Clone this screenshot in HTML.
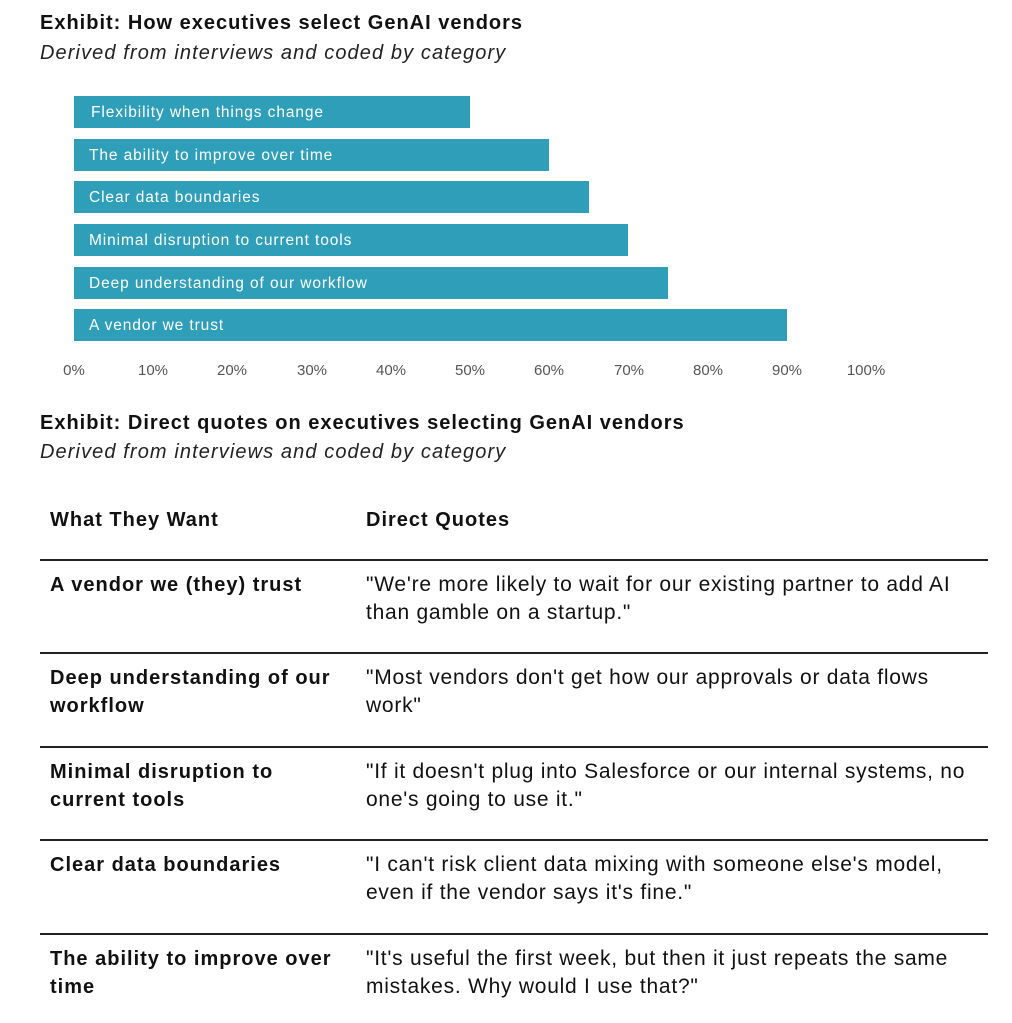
<!DOCTYPE html>
<html><head><meta charset="utf-8"><style>
body{margin:0;width:1012px;height:1023px;background:#fff;position:relative;font-family:"Liberation Sans",sans-serif;color:#111;overflow:hidden}
.a{position:absolute;white-space:nowrap}
.t{font-weight:bold;font-size:20px;letter-spacing:1px}
.s{font-style:italic;font-size:20px;color:#222;letter-spacing:1.1px}
.bar{position:absolute;left:74px;height:32px;background:#2f9eb9}
.bar span{position:absolute;left:17px;top:8px;color:#fff;font-size:15.5px;letter-spacing:0.9px}
.tk{position:absolute;top:362px;font-size:15px;color:#555;width:60px;text-align:center}
.ln{position:absolute;left:40px;width:948px;height:2px;background:#222}
.c{position:absolute;font-size:20px;line-height:28px;white-space:nowrap;letter-spacing:1px}
.b{font-weight:bold;left:50px}
.q{left:366px;font-size:21px;letter-spacing:0.75px}
</style></head><body>
<div class="a t" style="left:40px;top:12px">Exhibit: How executives select GenAI vendors</div>
<div class="a s" style="left:40px;top:42px">Derived from interviews and coded by category</div>
<div class="bar" style="top:96px;width:396px"><span>Flexibility when things change</span></div>
<div class="bar" style="top:139px;width:475px"><span style="left:15px">The ability to improve over time</span></div>
<div class="bar" style="top:181px;width:515px"><span style="left:15px">Clear data boundaries</span></div>
<div class="bar" style="top:224px;width:554px"><span style="left:15px">Minimal disruption to current tools</span></div>
<div class="bar" style="top:267px;width:594px"><span style="left:15px">Deep understanding of our workflow</span></div>
<div class="bar" style="top:309px;width:713px"><span style="left:15px">A vendor we trust</span></div>
<div class="tk" style="left:44px">0%</div><div class="tk" style="left:123px">10%</div><div class="tk" style="left:202px">20%</div><div class="tk" style="left:282px">30%</div><div class="tk" style="left:361px">40%</div><div class="tk" style="left:440px">50%</div><div class="tk" style="left:519px">60%</div><div class="tk" style="left:599px">70%</div><div class="tk" style="left:678px">80%</div><div class="tk" style="left:757px">90%</div><div class="tk" style="left:836px">100%</div>
<div class="a t" style="left:40px;top:412px">Exhibit: Direct quotes on executives selecting GenAI vendors</div>
<div class="a s" style="left:40px;top:441px">Derived from interviews and coded by category</div>
<div class="c b" style="top:506px">What They Want</div>
<div class="c" style="left:366px;top:506px;font-weight:bold">Direct Quotes</div>
<div class="ln" style="top:559px"></div>
<div class="c b" style="top:571px">A vendor we (they) trust</div>
<div class="c q" style="top:571px">"We're more likely to wait for our existing partner to add AI<br>than gamble on a startup."</div>
<div class="ln" style="top:652px"></div>
<div class="c b" style="top:664px">Deep understanding of our<br>workflow</div>
<div class="c q" style="top:664px">"Most vendors don't get how our approvals or data flows<br>work"</div>
<div class="ln" style="top:746px"></div>
<div class="c b" style="top:758px">Minimal disruption to<br>current tools</div>
<div class="c q" style="top:758px">"If it doesn't plug into Salesforce or our internal systems, no<br>one's going to use it."</div>
<div class="ln" style="top:839px"></div>
<div class="c b" style="top:851px">Clear data boundaries</div>
<div class="c q" style="top:851px">"I can't risk client data mixing with someone else's model,<br>even if the vendor says it's fine."</div>
<div class="ln" style="top:933px"></div>
<div class="c b" style="top:945px">The ability to improve over<br>time</div>
<div class="c q" style="top:945px">"It's useful the first week, but then it just repeats the same<br>mistakes. Why would I use that?"</div>
</body></html>
